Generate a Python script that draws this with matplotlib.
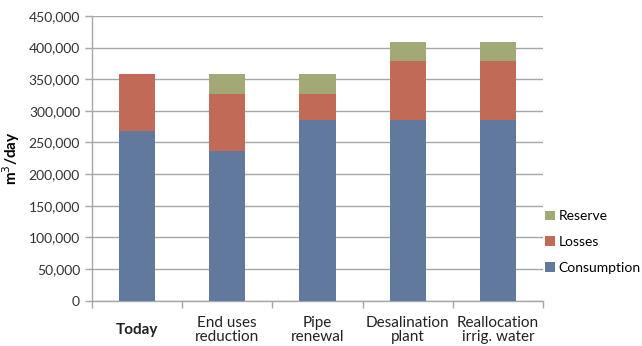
import matplotlib.pyplot as plt
import matplotlib.transforms as mtransforms
import numpy as np

plt.rcParams['font.family'] = ['Lato', 'DejaVu Sans']

# scenario data, m3/day
scenarios = ['Today', 'End uses\nreduction', 'Pipe\nrenewal',
             'Desalination\nplant', 'Reallocation\nirrig. water']
consumption = [268000, 236000, 286000, 286000, 286000]
losses = [90000, 91000, 41000, 92000, 92000]
reserve = [0, 31000, 31000, 31000, 31000]

col_cons = '#60799D'
col_loss = '#C16A57'
col_res = '#A3A877'
grid_col = '#A6A6A6'

fig = plt.figure(figsize=(6.42, 3.46), dpi=100)
ax = fig.add_axes([0.143, 0.131, 0.703, 0.823])

x = np.arange(len(scenarios))
w = 0.4
cons = np.array(consumption)
loss = np.array(losses)
res = np.array(reserve)

b1 = ax.bar(x, cons, w, color=col_cons, label='Consumption', zorder=3)
b2 = ax.bar(x, loss, w, bottom=cons, color=col_loss, label='Losses', zorder=3)
b3 = ax.bar(x, res, w, bottom=cons + loss, color=col_res, label='Reserve', zorder=3)

ax.set_xlim(-0.5, len(scenarios) - 0.5)
ax.set_ylim(0, 450000)
ax.set_yticks(np.arange(0, 450001, 50000))
ax.set_yticklabels(['{:,}'.format(v) for v in range(0, 450001, 50000)],
                   fontsize=10, color='#333333')
ax.yaxis.grid(True, color=grid_col, linewidth=1.0, zorder=0)
ax.set_axisbelow(True)

for s in ['top', 'right']:
    ax.spines[s].set_visible(False)
for s in ['left', 'bottom']:
    ax.spines[s].set_color(grid_col)
    ax.spines[s].set_linewidth(1.0)
ax.tick_params(axis='y', colors=grid_col, length=5, width=1.0, labelcolor='#333333')

# tick marks between categories, labels drawn separately
ax.set_xticks(np.arange(-0.5, len(scenarios)), minor=False)
ax.set_xticklabels([])
ax.tick_params(axis='x', colors=grid_col, length=5, width=1.0, direction='out')

trans = mtransforms.blended_transform_factory(ax.transData, ax.transAxes)
for i, lab in enumerate(scenarios):
    ax.text(i, -0.103, lab, transform=trans, ha='center', va='center',
            fontsize=11, linespacing=1.05, color='#222222',
            fontweight='bold' if i == 0 else 'normal')

ax.set_ylabel('m$^3$/day', fontsize=11, fontweight='bold')
ax.yaxis.set_label_coords(-0.155, 0.5)

ax.legend([b3, b2, b1], ['Reserve', 'Losses', 'Consumption'],
          loc='center left', bbox_to_anchor=(0.84, 0.30),
          bbox_transform=fig.transFigure, frameon=False, fontsize=10,
          handlelength=0.7, handleheight=0.7, handletextpad=0.3,
          labelspacing=1.0, borderaxespad=0)

fig.savefig('out.png', dpi=100)
